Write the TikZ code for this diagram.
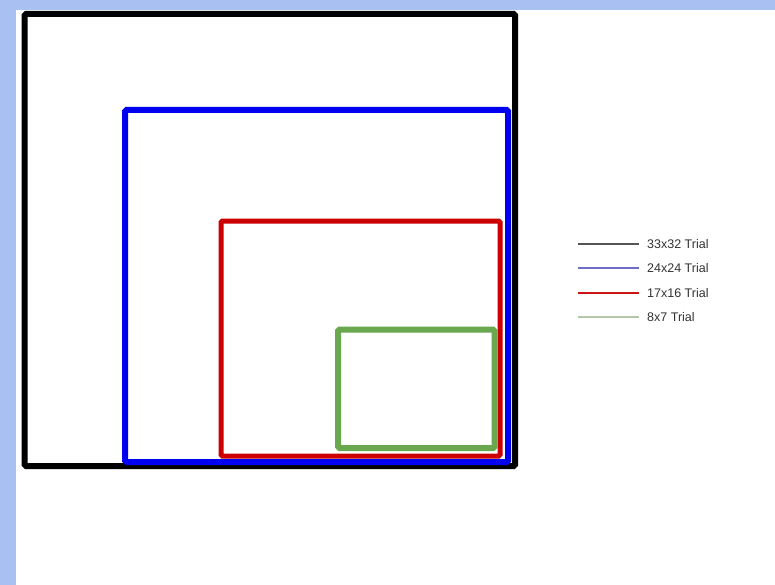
\documentclass[tikz,border=0pt]{standalone}
\usepackage{fontspec}
\setmainfont{Liberation Sans}
\definecolor{bgblue}{RGB}{169,193,242}
\definecolor{tblue}{RGB}{0,0,240}
\definecolor{tred}{RGB}{204,0,0}
\definecolor{tgreen}{RGB}{106,168,79}
\definecolor{lgray}{RGB}{85,85,85}
\definecolor{lblue}{RGB}{110,110,200}
\definecolor{lred}{RGB}{204,20,20}
\definecolor{lgreen}{RGB}{180,200,168}
\begin{document}
\begin{tikzpicture}[x=1pt,y=-1pt,
  trial/.style={line width=6pt,rounded corners=1.5pt},
  legline/.style={line width=2.5pt},
  legtext/.style={anchor=west,inner sep=0pt,font=\fontsize{12.5}{14}\selectfont,text=black!80}]
\useasboundingbox (0,0) rectangle (775,585);
\fill[bgblue] (0,0) rectangle (775,585);
\fill[white] (16,10) rectangle (775,585);
% rectangles
\draw[trial,black] (24.5,14) rectangle (515,466);
\draw[trial,tblue] (125,110) rectangle (508,462);
\draw[trial,tred,line width=5pt] (221,221) rectangle (500,456);
\draw[trial,tgreen] (338,329.5) rectangle (494.5,448);
% legend
\coordinate (l1a) at (578,244); \coordinate (l1b) at (639,244);
\coordinate (l2a) at (578,268); \coordinate (l2b) at (639,268);
\coordinate (l3a) at (578,293); \coordinate (l3b) at (639,293);
\coordinate (l4a) at (578,317); \coordinate (l4b) at (639,317);
\draw[legline,lgray] (l1a) -- (l1b);
\draw[legline,lblue] (l2a) -- (l2b);
\draw[legline,lred] (l3a) -- (l3b);
\draw[legline,lgreen] (l4a) -- (l4b);
\node[legtext] (t1) at (647,244) {33x32 Trial};
\node[legtext] (t2) at (647,268) {24x24 Trial};
\node[legtext] (t3) at (647,293) {17x16 Trial};
\node[legtext] (t4) at (647,317) {8x7 Trial};
\end{tikzpicture}
\end{document}
